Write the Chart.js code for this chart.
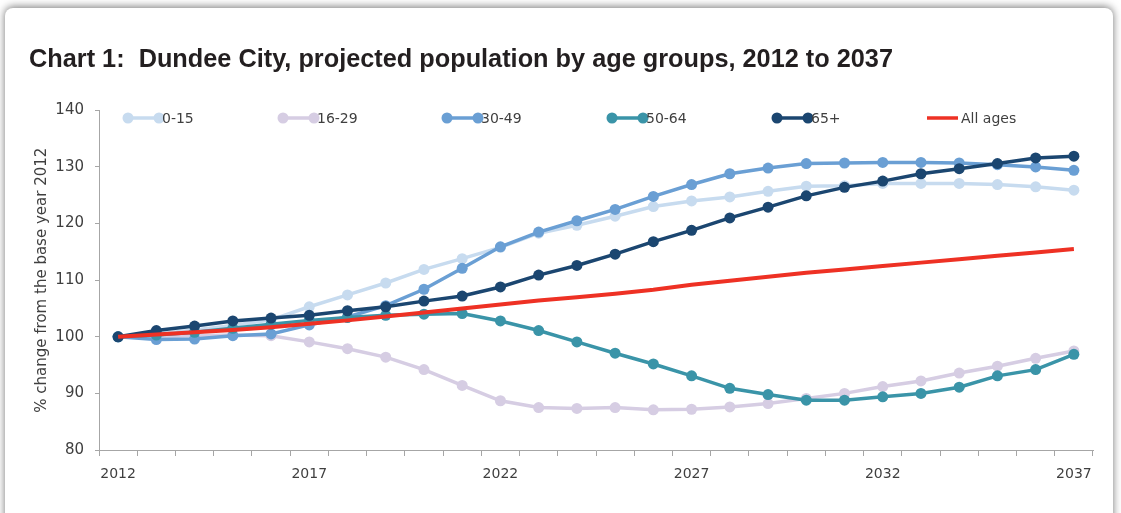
<!DOCTYPE html>
<html>
<head>
<meta charset="utf-8">
<title>Dundee City projected population</title>
<script src="https://cdn.jsdelivr.net/npm/chart.js@4/dist/chart.umd.min.js"></script>
<style>
  html, body { margin: 0; padding: 0; background: #fff; overflow: hidden; }
  .card {
    position: absolute; left: 5px; top: 8px; width: 1108px; height: 520px;
    background: #fff; border-radius: 8px;
    box-shadow: 0 -1px 9px rgba(0, 0, 0, 0.55);
  }
  .wrap { position: absolute; left: 0; top: 0; width: 1121px; height: 513px; }
</style>
</head>
<body>
<div class="card"></div>
<div class="wrap"><canvas id="pop-chart"></canvas></div>
<script>
// anni di proiezione
const years = ['2012', '2013', '2014', '2015', '2016', '2017', '2018', '2019', '2020', '2021', '2022', '2023', '2024',
  '2025', '2026', '2027', '2028', '2029', '2030', '2031', '2032', '2033', '2034', '2035', '2036', '2037'];

// % rispetto al 2012 (=100) per fascia di età
const age0_15 = [100, 100.5, 101.2, 102.0, 103.0, 105.3, 107.4, 109.5, 111.9, 113.8, 115.8, 118.3, 119.7,
  121.3, 123.0, 124.0, 124.7, 125.7, 126.6, 126.7, 127.1, 127.1, 127.1, 126.9, 126.5, 125.9];
const age16_29 = [100, 100.1, 100.2, 100.3, 100.2, 99.1, 97.9, 96.4, 94.2, 91.4, 88.7, 87.5, 87.35,
  87.5, 87.1, 87.2, 87.6, 88.2, 89.1, 90.0, 91.2, 92.2, 93.6, 94.8, 96.2, 97.5];
const age30_49 = [100, 99.5, 99.6, 100.2, 100.5, 102.1, 103.5, 105.5, 108.4, 112.1, 115.9, 118.5, 120.5,
  122.5, 124.8, 126.9, 128.8, 129.8, 130.6, 130.7, 130.8, 130.8, 130.7, 130.4, 130.0, 129.4];
const age50_64 = [100, 100.3, 100.8, 101.5, 102.2, 102.9, 103.4, 103.8, 104.0, 104.1, 102.8, 101.1, 99.1,
  97.1, 95.2, 93.1, 90.9, 89.8, 88.8, 88.8, 89.4, 90.0, 91.1, 93.1, 94.2, 96.9];
const age65plus = [100, 101.1, 101.9, 102.8, 103.3, 103.8, 104.6, 105.3, 106.3, 107.2, 108.8, 110.9, 112.6,
  114.6, 116.8, 118.8, 121.0, 122.9, 124.9, 126.4, 127.5, 128.8, 129.7, 130.6, 131.6, 131.9];
const allAges = [100, 100.4, 100.8, 101.2, 101.7, 102.3, 102.9, 103.6, 104.3, 105.0, 105.7, 106.4, 107.0,
  107.6, 108.3, 109.2, 109.9, 110.6, 111.3, 111.9, 112.5, 113.1, 113.7, 114.3, 114.9, 115.5];

const seriesNames = ['0-15', '16-29', '30-49', '50-64', '65+', 'All ages'];
const yTicks = [80, 90, 100, 110, 120, 130, 140];

const colori = ['#c7dbef', '#d6cde3', '#6a9fd4', '#3a94a8', '#1b4670', '#ee3124'];
const testo = '#3f3f3f';
const font = 'DejaVu Sans';

// posizione x di ogni voce della legenda
const legendX = [128, 283, 447, 612, 777, 927];

const makeSet = function (i, values) {
  const isTotal = seriesNames[i] === 'All ages';
  return {
    label: seriesNames[i],
    data: values,
    borderColor: colori[i],
    backgroundColor: colori[i],
    borderWidth: isTotal ? 4 : 3.5,
    pointRadius: isTotal ? 0 : 5.5,
    pointBorderWidth: 0,
    pointBackgroundColor: colori[i],
    tension: 0,
    order: 5 - i   // l'ultima serie sta sopra
  }
}

/* legenda in stile Excel: linea con due pallini */
const legendaPlugin = {
  id: 'legenda',
  afterDraw(chart) {
    const c = chart.ctx;
    const y = 118;
    c.save();
    chart.data.datasets.forEach(function (ds, i) {
      const x = legendX[i];
      c.strokeStyle = ds.borderColor;
      c.fillStyle = ds.borderColor;
      c.lineWidth = 3.5;
      c.beginPath();
      c.moveTo(x, y);
      c.lineTo(x + 31, y);
      c.stroke();
      if (ds.pointRadius > 0) {
        [x, x + 31].forEach(function (px) {
          c.beginPath();
          c.arc(px, y, 5.5, 0, Math.PI * 2);
          c.fill();
        });
      }
      c.fillStyle = testo;
      c.font = '14px "' + font + '"';
      c.textBaseline = 'middle';
      c.textAlign = 'left';
      c.fillText(ds.label, x + 34, y + 1);
    });
    c.restore();
  }
}

const ctx = document.getElementById('pop-chart');

const data = {
  labels: years,
  datasets: [
    makeSet(0, age0_15),
    makeSet(1, age16_29),
    makeSet(2, age30_49),
    makeSet(3, age50_64),
    makeSet(4, age65plus),
    makeSet(5, allAges)
  ]
}

const config = {
  type: 'line',
  data: data,
  plugins: [legendaPlugin],
  options: {
    responsive: true,
    maintainAspectRatio: false,
    animation: false,
    layout: { padding: { left: 29, right: 28, top: 0, bottom: 0 } },
    plugins: {
      legend: { display: false },
      tooltip: { enabled: false },
      title: {
        display: true,
        text: 'Chart 1:  Dundee City, projected population by age groups, 2012 to 2037',
        align: 'start',
        color: '#231f20',
        font: { family: '"Liberation Sans Narrow", "Liberation Sans"', size: 25.3, weight: 'bold' },
        padding: { top: 45, bottom: 35 }
      }
    },
    scales: {
      x: {
        offset: true,
        border: { display: true, color: '#a6a6a6', width: 1 },
        grid: { offset: true, drawOnChartArea: false, drawTicks: true, tickLength: 6, color: '#a6a6a6' },
        ticks: {
          color: testo,
          font: { family: font, size: 14 },
          padding: 10,
          autoSkip: false,
          maxRotation: 0,
          callback: function (val, idx) {
            return idx % 5 === 0 ? years[idx] : '';
          }
        },
        afterFit: function (scale) { scale.height = 63; }
      },
      y: {
        min: 80,
        max: 140,
        afterBuildTicks: function (scale) {
          scale.ticks = yTicks.map(v => ({ value: v }));
        },
        border: { display: true, color: '#a6a6a6', width: 1 },
        grid: { drawOnChartArea: false, drawTicks: true, tickLength: 4, color: '#a6a6a6' },
        ticks: { color: testo, font: { family: font, size: 15 }, padding: 11 },
        title: {
          display: true,
          text: '% change from the base year 2012',
          color: testo,
          font: { family: font, size: 15 },
          padding: { top: 4, bottom: 0 }
        },
        afterFit: function (scale) { scale.width = 70; }
      }
    }
  }
}

const myChart = new Chart(ctx, config);
</script>
</body>
</html>
